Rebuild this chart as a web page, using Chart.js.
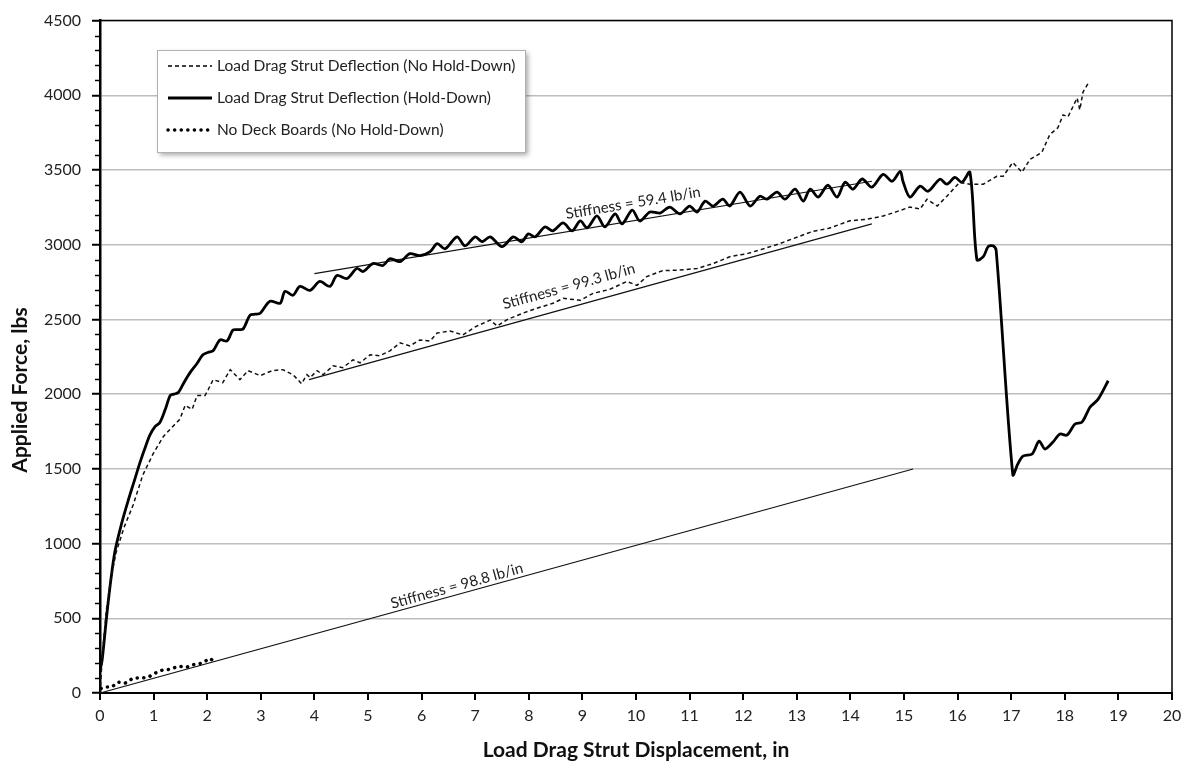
<!DOCTYPE html>
<html>
<head>
<meta charset="utf-8">
<script src="https://cdn.jsdelivr.net/npm/chart.js@4/dist/chart.umd.min.js"></script>
<style>
  body { margin: 0; background: #fff; }
  canvas { display: block; }
</style>
</head>
<body>
<canvas id="chart" width="1189" height="769"></canvas>
<script>
// data
let holdDownX = [0, 0.04, 0.12, 0.2, 0.28, 0.4, 0.52, 0.64, 0.75, 0.85, 0.93, 1.02, 1.12, 1.22, 1.31, 1.38, 1.46, 1.57, 1.68, 1.8, 1.92, 2.02, 2.11, 2.24, 2.37, 2.48, 2.58, 2.67, 2.8, 2.9, 2.99, 3.17, 3.36, 3.45, 3.6, 3.73, 3.92, 4.1, 4.29, 4.42, 4.61, 4.79, 4.91, 5.09, 5.28, 5.41, 5.6, 5.78, 5.97, 6.16, 6.29, 6.44, 6.66, 6.81, 7.0, 7.13, 7.28, 7.5, 7.71, 7.87, 7.99, 8.12, 8.3, 8.45, 8.64, 8.81, 8.96, 9.09, 9.27, 9.42, 9.61, 9.74, 9.93, 10.07, 10.26, 10.45, 10.63, 10.82, 11.0, 11.14, 11.29, 11.44, 11.62, 11.75, 11.94, 12.13, 12.31, 12.44, 12.63, 12.78, 12.97, 13.12, 13.25, 13.4, 13.58, 13.75, 13.9, 14.05, 14.22, 14.4, 14.61, 14.78, 14.93, 14.98, 15.11, 15.3, 15.45, 15.67, 15.8, 15.95, 16.08, 16.23, 16.36, 16.48, 16.57, 16.66, 16.72, 17.03, 17.12, 17.22, 17.39, 17.52, 17.63, 17.78, 17.91, 18.04, 18.19, 18.32, 18.47, 18.62, 18.81]
let holdDownY = [150, 220, 500, 750, 950, 1130, 1281, 1420, 1547, 1650, 1726, 1780, 1812, 1900, 1991, 2000, 2011, 2080, 2144, 2200, 2263, 2280, 2290, 2363, 2356, 2429, 2432, 2436, 2529, 2535, 2542, 2622, 2608, 2688, 2662, 2721, 2695, 2754, 2721, 2794, 2774, 2841, 2821, 2874, 2861, 2907, 2887, 2940, 2927, 2954, 3007, 2973, 3053, 2993, 3053, 3020, 3053, 2987, 3053, 3020, 3073, 3053, 3119, 3093, 3146, 3093, 3159, 3113, 3193, 3119, 3206, 3139, 3232, 3159, 3219, 3212, 3252, 3206, 3259, 3219, 3292, 3259, 3305, 3259, 3352, 3259, 3325, 3305, 3352, 3305, 3372, 3292, 3372, 3319, 3398, 3319, 3418, 3372, 3440, 3385, 3471, 3425, 3491, 3425, 3319, 3392, 3358, 3438, 3405, 3451, 3418, 3485, 2900, 2920, 2987, 2993, 2960, 1460, 1530, 1586, 1600, 1686, 1633, 1680, 1733, 1726, 1800, 1813, 1912, 1965, 2090]

let noHoldDownX = [0, 0.05, 0.12, 0.2, 0.3, 0.45, 0.62, 0.8, 0.99, 1.18, 1.31, 1.49, 1.59, 1.72, 1.81, 1.96, 2.02, 2.11, 2.29, 2.43, 2.61, 2.76, 2.99, 3.21, 3.41, 3.6, 3.69, 3.76, 3.86, 3.92, 4.05, 4.16, 4.35, 4.53, 4.72, 4.85, 5.04, 5.22, 5.41, 5.6, 5.78, 5.97, 6.16, 6.29, 6.53, 6.77, 7.0, 7.28, 7.41, 7.6, 7.89, 8.15, 8.45, 8.64, 8.96, 9.2, 9.5, 9.83, 10.02, 10.2, 10.5, 10.8, 11.14, 11.44, 11.75, 12.07, 12.4, 12.7, 13.0, 13.3, 13.6, 13.99, 14.3, 14.61, 14.85, 15.11, 15.3, 15.43, 15.62, 15.8, 16.04, 16.23, 16.48, 16.73, 16.85, 17.03, 17.2, 17.35, 17.57, 17.72, 17.87, 17.97, 18.06, 18.23, 18.28, 18.34, 18.45]
let noHoldDownY = [0, 280, 560, 760, 940, 1110, 1260, 1460, 1600, 1715, 1766, 1832, 1925, 1898, 1991, 1991, 2031, 2097, 2077, 2164, 2097, 2157, 2124, 2157, 2164, 2130, 2097, 2070, 2130, 2111, 2157, 2130, 2190, 2177, 2230, 2210, 2263, 2257, 2290, 2343, 2323, 2363, 2356, 2409, 2423, 2396, 2450, 2496, 2456, 2500, 2542, 2575, 2608, 2641, 2628, 2675, 2700, 2754, 2728, 2787, 2827, 2830, 2841, 2874, 2920, 2940, 2975, 3010, 3050, 3090, 3110, 3160, 3170, 3192, 3220, 3252, 3239, 3305, 3259, 3325, 3418, 3405, 3405, 3458, 3458, 3551, 3485, 3571, 3617, 3737, 3783, 3869, 3856, 3982, 3903, 4022, 4088]

let noDeckX = [0.02, 0.09, 0.22, 0.34, 0.47, 0.62, 0.78, 0.9, 1.03, 1.16, 1.31, 1.46, 1.62, 1.77, 1.9, 2.05, 2.15]
let noDeckY = [30, 40, 40, 73, 66, 100, 100, 106, 133, 153, 159, 179, 173, 193, 199, 232, 206]

// stiffness fit lines: [x0, x1], [y0, y1]
let fit988X = [0, 15.17]
let fit988Y = [0, 1499]
let fit993X = [3.9, 14.4]
let fit993Y = [2097, 3140]
let fit594X = [4.0, 14.4]
let fit594Y = [2807, 3425]

let xTickMin = 0, xTickMax = 20, xStep = 1
let yTickMin = 0, yTickMax = 4500, yStep = 500, yMinorStep = 100

let xTitle = "Load Drag Strut Displacement, in"
let yTitle = "Applied Force, lbs"

let legendLabels = [
    "Load Drag Strut Deflection (No Hold-Down)",
    "Load Drag Strut Deflection (Hold-Down)",
    "No Deck Boards (No Hold-Down)"
]

let fitLabels = [
    { text: "Stiffness = 59.4 lb/in", xs: fit594X, ys: fit594Y, at: 10.0, lift: 10 },
    { text: "Stiffness = 99.3 lb/in", xs: fit993X, ys: fit993Y, at: 8.85, lift: 13 },
    { text: "Stiffness = 98.8 lb/in", xs: fit988X, ys: fit988Y, at: 6.7, lift: 1 }
]

const FONT = "Lato, 'Open Sans', sans-serif"

function toPoints(xs, ys) {
    return xs.map((x, i) => ({ x: x, y: ys[i] }))
}

function fitDataset(xs, ys) {
    return {
        data: toPoints(xs, ys),
        showLine: true,
        borderColor: "#111",
        borderWidth: 1.2,
        pointRadius: 0
    }
}

let minorTicks = {
    id: "minorTicks",
    afterDraw(chart) {
        let ctx = chart.ctx
        let y = chart.scales.y
        let area = chart.chartArea
        ctx.save()
        ctx.strokeStyle = "#000"
        ctx.lineWidth = 1.5
        for (let v = yTickMin; v <= yTickMax; v += yMinorStep) {
            if (v % yStep === 0) continue
            let py = Math.round(y.getPixelForValue(v)) + 0.5
            ctx.beginPath()
            ctx.moveTo(area.left - 5, py)
            ctx.lineTo(area.left, py)
            ctx.stroke()
        }
        // box around the plot
        ctx.beginPath()
        ctx.moveTo(area.left, area.top)
        ctx.lineTo(area.right, area.top)
        ctx.lineTo(area.right, area.bottom)
        ctx.stroke()

        // y axis title, sitting a little below the middle like the original
        ctx.translate(20, 390)
        ctx.rotate(-Math.PI / 2)
        ctx.font = "bold 21px " + FONT
        ctx.fillStyle = "#111"
        ctx.textAlign = "center"
        ctx.textBaseline = "middle"
        ctx.fillText(yTitle, 0, 0)
        ctx.restore()
    }
}

let fitText = {
    id: "fitText",
    afterDatasetsDraw(chart) {
        let ctx = chart.ctx
        let sx = chart.scales.x
        let sy = chart.scales.y
        ctx.save()
        ctx.font = "15px " + FONT
        ctx.fillStyle = "#222"
        ctx.textAlign = "center"
        ctx.textBaseline = "bottom"
        for (let l of fitLabels) {
            let x0 = sx.getPixelForValue(l.xs[0]), y0 = sy.getPixelForValue(l.ys[0])
            let x1 = sx.getPixelForValue(l.xs[1]), y1 = sy.getPixelForValue(l.ys[1])
            let angle = Math.atan2(y1 - y0, x1 - x0)
            let t = (l.at - l.xs[0]) / (l.xs[1] - l.xs[0])
            let vy = l.ys[0] + t * (l.ys[1] - l.ys[0])
            ctx.save()
            ctx.translate(sx.getPixelForValue(l.at), sy.getPixelForValue(vy))
            ctx.rotate(angle)
            ctx.fillText(l.text, 0, -l.lift)
            ctx.restore()
        }
        ctx.restore()
    }
}

let boxLegend = {
    id: "boxLegend",
    afterDraw(chart) {
        let ctx = chart.ctx
        let left = 157, top = 50, w = 368, h = 102
        ctx.save()
        ctx.shadowColor = "rgba(0,0,0,0.35)"
        ctx.shadowBlur = 5
        ctx.shadowOffsetX = 3
        ctx.shadowOffsetY = 3
        ctx.fillStyle = "#fff"
        ctx.fillRect(left, top, w, h)
        ctx.restore()

        ctx.save()
        ctx.strokeStyle = "#b0b0b0"
        ctx.lineWidth = 1
        ctx.strokeRect(left + 0.5, top + 0.5, w, h)

        let styles = chart.data.datasets.slice(0, 3)
        let rows = [66, 98, 130]
        ctx.font = "15.5px " + FONT
        ctx.fillStyle = "#222"
        ctx.textBaseline = "middle"
        for (let i = 0; i < 3; i++) {
            let ds = styles[i]
            ctx.beginPath()
            ctx.strokeStyle = "#000"
            ctx.lineWidth = ds.borderWidth
            ctx.setLineDash(ds.borderDash || [])
            ctx.lineCap = ds.borderCapStyle || "butt"
            ctx.moveTo(168, rows[i])
            ctx.lineTo(212, rows[i])
            ctx.stroke()
            ctx.setLineDash([])
            ctx.fillText(legendLabels[i], 217, rows[i])
        }
        ctx.restore()
    }
}

window.onload = () => {
    let ctx = document.querySelector("#chart").getContext("2d")

    new Chart(ctx, {
        type: "scatter",
        data: {
            datasets: [
                {
                    label: legendLabels[0],
                    data: toPoints(noHoldDownX, noHoldDownY),
                    showLine: true,
                    borderColor: "#111",
                    borderWidth: 1.5,
                    borderDash: [4, 3],
                    pointRadius: 0
                },
                {
                    label: legendLabels[1],
                    data: toPoints(holdDownX, holdDownY),
                    showLine: true,
                    borderColor: "#000",
                    borderWidth: 2.8,
                    tension: 0.3,
                    pointRadius: 0
                },
                {
                    label: legendLabels[2],
                    data: toPoints(noDeckX, noDeckY),
                    showLine: true,
                    borderColor: "#000",
                    borderWidth: 3.5,
                    borderDash: [0.1, 6.5],
                    borderCapStyle: "round",
                    pointRadius: 0
                },
                fitDataset(fit988X, fit988Y),
                fitDataset(fit993X, fit993Y),
                fitDataset(fit594X, fit594Y)
            ]
        },
        options: {
            responsive: false,
            animation: false,
            layout: { padding: { top: 15, right: 17, left: 0, bottom: 0 } },
            plugins: {
                legend: { display: false },
                tooltip: { enabled: false }
            },
            scales: {
                x: {
                    type: "linear",
                    min: xTickMin,
                    max: xTickMax,
                    ticks: {
                        stepSize: xStep,
                        color: "#222",
                        font: { family: FONT, size: 16 },
                        padding: 6,
                        maxRotation: 0
                    },
                    grid: {
                        drawOnChartArea: false,
                        color: "#000",
                        lineWidth: 2,
                        tickLength: 7
                    },
                    border: { color: "#000", width: 2 },
                    title: {
                        display: true,
                        text: xTitle,
                        color: "#111",
                        font: { family: FONT, size: 21, weight: "bold" },
                        padding: { top: 0, bottom: 6 }
                    },
                    afterFit(scale) { scale.height = 76 }
                },
                y: {
                    type: "linear",
                    min: yTickMin,
                    max: yTickMax,
                    ticks: {
                        stepSize: yStep,
                        color: "#222",
                        font: { family: FONT, size: 16 },
                        padding: 11,
                        callback: (v) => String(v)
                    },
                    grid: {
                        color: "#bdbdbd",
                        lineWidth: 1.5,
                        tickColor: "#000",
                        tickWidth: 2,
                        tickLength: 8
                    },
                    border: { color: "#000", width: 2.5 },
                    afterFit(scale) { scale.width = 100 }
                }
            }
        },
        plugins: [minorTicks, fitText, boxLegend]
    })
}
</script>
</body>
</html>
